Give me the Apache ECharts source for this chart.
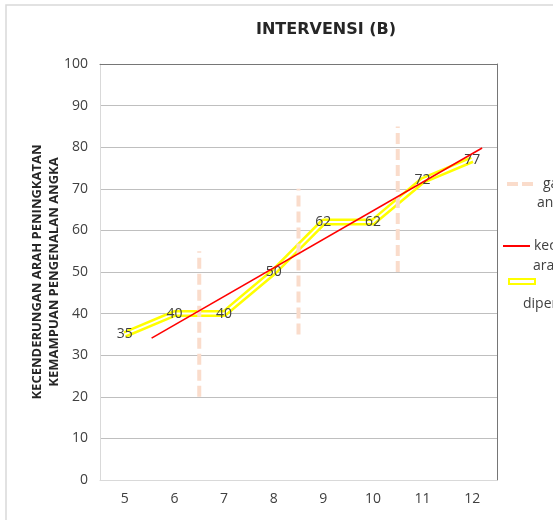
<!DOCTYPE html>
<html>
<head>
<meta charset="utf-8">
<script src="https://cdn.jsdelivr.net/npm/echarts@6/dist/echarts.min.js"></script>
<style>
html,body{margin:0;padding:0;background:#fff;}
#c{width:553px;height:520px;}
</style>
</head>
<body>
<div id="c"></div>
<script>
// ---- data ----
var categories = ['5', '6', '7', '8', '9', '10', '11', '12'];
var scores = [35, 40, 40, 50, 62, 62, 72, 77];
var yTicks = [0, 10, 20, 30, 40, 50, 60, 70, 80, 90, 100];
var trendX = [5.54, 12.2];
var trendY = [34.1, 79.8];
var phaseX = [6.5, 8.5, 10.5];
var phaseLow = [20, 35, 50];
var phaseHigh = [55, 70, 85];

var titleText = 'INTERVENSI (B)';
var yName = 'KECENDERUNGAN ARAH PENINGKATAN\nKEMAMPUAN PENGENALAN ANGKA';
var nameDashed = 'garis perubahan kondisi';
var nameTrend = 'kecenderungan arah';
var nameData = 'data yang diperoleh';

var FONT = '"Open Sans", "Noto Sans", sans-serif';
var TXT = '#404040';
var PEACH = '#FADCCB';

var chart = echarts.init(document.getElementById('c'), null, {renderer: 'canvas'});

var series = [];
// yellow double line (outer yellow, inner white)
series.push({
  name: nameData, type: 'line', xAxisIndex: 0, yAxisIndex: 0,
  data: scores, symbol: 'none', z: 2,
  lineStyle: {color: '#FFFF00', width: 7}
});
series.push({
  name: nameData, type: 'line', xAxisIndex: 0, yAxisIndex: 0,
  data: scores, symbol: 'circle', symbolSize: 1, showSymbol: true, z: 3,
  itemStyle: {color: '#FFFFFF', borderWidth: 0},
  lineStyle: {color: '#FFFFFF', width: 2},
  label: {show: true, position: 'inside', offset: [0, 2], color: TXT, fontFamily: FONT, fontSize: 14},
  labelLayout: {hideOverlap: false}
});
// dashed phase-change lines
for (var i = 0; i < phaseX.length; i++) {
  series.push({
    name: nameDashed, type: 'line', xAxisIndex: 1, yAxisIndex: 0,
    data: [[phaseX[i], phaseLow[i]], [phaseX[i], phaseHigh[i]]],
    symbol: 'none', z: 4,
    lineStyle: {color: PEACH, width: 4, type: [11, 5], cap: 'butt'}
  });
}
// red trend line
series.push({
  name: nameTrend, type: 'line', xAxisIndex: 1, yAxisIndex: 0,
  data: [[trendX[0], trendY[0]], [trendX[1], trendY[1]]],
  symbol: 'none', z: 5,
  lineStyle: {color: '#FF0000', width: 1.6}
});

var option = {
  backgroundColor: '#ffffff',
  animation: false,
  title: {
    text: titleText, left: 256, top: 22, padding: 0,
    textStyle: {fontFamily: '"DejaVu Sans", sans-serif', fontWeight: 'bold', fontSize: 16, color: '#262626'}
  },
  grid: {left: 100, top: 64, right: 56, bottom: 40, containLabel: false},
  xAxis: [{
    type: 'category', data: categories, boundaryGap: true, position: 'bottom',
    axisLine: {show: true, lineStyle: {color: '#D9D9D9', width: 1}},
    axisTick: {show: false},
    axisLabel: {color: TXT, fontFamily: FONT, fontSize: 14, margin: 12},
    splitLine: {show: false}
  }, {
    type: 'value', min: 4.5, max: 12.5, position: 'top',
    axisLine: {show: true, onZero: false, lineStyle: {color: '#767676', width: 1}},
    axisTick: {show: false}, axisLabel: {show: false}, splitLine: {show: false}
  }],
  yAxis: [{
    type: 'value', min: yTicks[0], max: yTicks[yTicks.length - 1], interval: 10,
    axisLine: {show: true, lineStyle: {color: '#D9D9D9', width: 1}},
    axisTick: {show: false},
    axisLabel: {color: TXT, fontFamily: FONT, fontSize: 14, margin: 12},
    splitLine: {show: true, lineStyle: {color: '#BFBFBF', width: 1}},
    name: yName, nameLocation: 'middle', nameRotate: 90, nameGap: 37, nameMoveOverlap: false,
    nameTextStyle: {fontFamily: FONT, fontWeight: 'bold', fontSize: 13, color: '#262626', lineHeight: 17, align: 'center'}
  }, {
    type: 'value', min: yTicks[0], max: yTicks[yTicks.length - 1], interval: 10, position: 'right',
    axisLine: {show: true, lineStyle: {color: '#767676', width: 1}},
    axisTick: {show: false}, axisLabel: {show: false}, splitLine: {show: false}
  }],
  series: series,
  graphic: [
    {type: 'rect', shape: {x: 6, y: 5, width: 700, height: 700}, style: {fill: 'none', stroke: '#D9D9D9', lineWidth: 1.5}, silent: true, z: -1},
    // legend: dashed
    {type: 'line', shape: {x1: 507, y1: 184, x2: 533, y2: 184}, style: {stroke: PEACH, lineWidth: 4, lineDash: [11, 4]}},
    {type: 'text', x: 543, y: 184, style: {text: 'garis perubahan', fill: TXT, font: '14px ' + FONT, verticalAlign: 'middle', align: 'left'}},
    {type: 'text', x: 537, y: 203, style: {text: 'antar kondisi', fill: TXT, font: '14px ' + FONT, verticalAlign: 'middle', align: 'left'}},
    // legend: red
    {type: 'line', shape: {x1: 503, y1: 246, x2: 530, y2: 246}, style: {stroke: '#FF0000', lineWidth: 2}},
    {type: 'text', x: 534, y: 246, style: {text: 'kecenderungan', fill: TXT, font: '14px ' + FONT, verticalAlign: 'middle', align: 'left'}},
    {type: 'text', x: 533, y: 266, style: {text: 'arah', fill: TXT, font: '14px ' + FONT, verticalAlign: 'middle', align: 'left'}},
    // legend: yellow double
    {type: 'rect', shape: {x: 509, y: 279, width: 26, height: 5}, style: {fill: '#FFFFFF', stroke: '#FFFF00', lineWidth: 2}},
    {type: 'text', x: 523, y: 304, style: {text: 'diperoleh', fill: TXT, font: '14px ' + FONT, verticalAlign: 'middle', align: 'left'}}
  ]
};
chart.setOption(option);
</script>
</body>
</html>
